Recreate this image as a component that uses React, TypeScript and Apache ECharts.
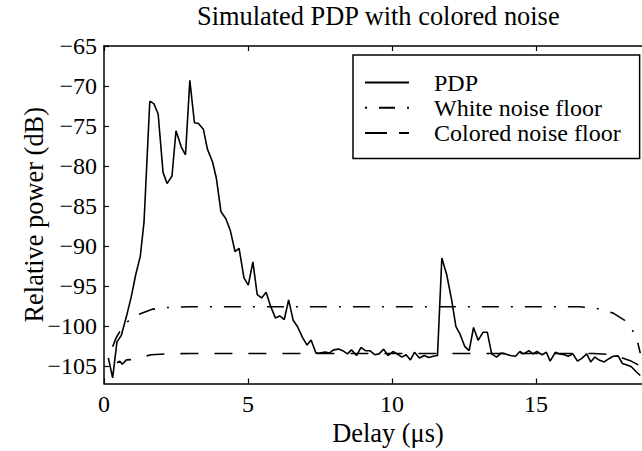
import React, { useEffect, useRef } from "react";
import * as echarts from "echarts";

const FONT = "Liberation Serif";

const pdpDelay = [
  0.15, 0.3, 0.45, 0.6, 0.78, 0.95, 1.1, 1.26, 1.39, 1.59, 1.73, 1.88, 2.05, 2.19, 2.36, 2.5, 2.68, 2.83, 2.98,
  3.14, 3.28, 3.45, 3.59, 3.77, 3.9, 4.06, 4.23, 4.38, 4.55, 4.69, 4.86, 5.01, 5.17, 5.32, 5.47, 5.63, 5.78,
  5.95, 6.1, 6.26, 6.41, 6.57, 6.72, 6.9, 7.05, 7.19, 7.36, 7.5, 7.68, 7.82, 7.97, 8.14, 8.29, 8.45, 8.59,
  8.77, 8.92, 9.08, 9.23, 9.4, 9.55, 9.71, 9.86, 10.03, 10.18, 10.34, 10.49, 10.64, 10.78, 10.95, 11.12,
  11.27, 11.43, 11.58, 11.73, 11.9, 12.07, 12.22, 12.37, 12.53, 12.68, 12.83, 12.99, 13.16, 13.31, 13.46,
  13.63, 13.79, 13.94, 14.11, 14.29, 14.44, 14.57, 14.75, 14.9, 15.03, 15.21, 15.36, 15.49, 15.67, 15.81,
  15.98, 16.12, 16.28, 16.44, 16.59, 16.76, 16.9, 17.04, 17.21, 17.37, 17.53, 17.68, 17.85, 18.0, 18.16,
  18.31, 18.47, 18.62,
];
const pdpPower = [
  -104.0, -106.5, -102.0, -101.2, -98.8, -96.3, -93.6, -91.3, -87.0, -71.9, -72.2, -73.5, -80.8, -82.2,
  -81.25, -75.6, -77.6, -78.6, -69.3, -74.6, -74.7, -75.4, -77.9, -79.5, -81.5, -85.7, -86.6, -88.0, -90.7,
  -90.3, -94.0, -94.9, -92.0, -96.1, -96.5, -95.8, -97.5, -99.0, -98.75, -99.2, -96.75, -99.3, -100.1,
  -101.5, -102.4, -101.75, -103.4, -103.4, -103.25, -103.4, -103.0, -102.9, -103.1, -103.5, -103.0, -103.7,
  -102.7, -103.1, -103.1, -103.6, -103.5, -102.9, -103.7, -103.2, -103.5, -103.9, -103.6, -104.25, -103.3,
  -104.0, -103.7, -103.96, -103.8, -103.7, -91.5, -93.6, -96.75, -100.1, -101.1, -102.6, -103.1, -100.2,
  -101.8, -100.8, -100.8, -103.5, -103.9, -103.4, -103.5, -103.7, -103.8, -103.2, -103.5, -103.1, -103.5,
  -103.2, -103.6, -103.3, -104.4, -103.3, -103.5, -103.6, -103.8, -103.5, -104.4, -104.05, -103.5, -104.5,
  -103.9, -104.3, -104.5, -104.1, -103.8, -103.75, -104.7, -104.9, -105.1, -105.7, -106.2,
];

const whiteDelay = [0.3, 0.42, 0.55, 0.8, 1.18, 1.7, 2.16, 3.0, 16.5, 17.1, 17.68, 18.08, 18.42, 18.54, 18.62];
const whitePower = [-102.6, -101.5, -100.7, -99.5, -98.6, -97.9, -97.7, -97.6, -97.6, -97.8, -98.4, -99.3, -100.9, -102.2, -103.4];

const coloredDelay = [0.45, 0.55, 0.63, 0.78, 1.0, 1.3, 1.64, 2.16, 3.0, 17.0, 17.7, 18.0, 18.3, 18.62];
const coloredPower = [-104.6, -104.4, -104.8, -104.25, -104.2, -103.9, -103.6, -103.5, -103.45, -103.45, -103.6, -104.0, -104.4, -105.0];

const xTicks = [0, 5, 10, 15];
const yTicks = [-105, -100, -95, -90, -85, -80, -75, -70, -65];

const zip = (a: number[], b: number[]) => a.map((v, i) => [v, b[i]]);
const minus = (v: number) => String(v).replace("-", "\u2212");

export default function App() {
  const ref = useRef<HTMLDivElement>(null);
  useEffect(() => {
    if (!ref.current) return;
    const chart = echarts.init(ref.current, null, { renderer: "svg" });
    const axisLine = { show: true, lineStyle: { color: "#000", width: 1.5 } };
    const tick = { show: true, inside: true, length: 5, lineStyle: { color: "#000", width: 1.2 } };
    const label = { fontFamily: FONT, fontSize: 24, color: "#000" };
    chart.setOption({
      animation: false,
      backgroundColor: "#fff",
      title: {
        text: "Simulated PDP with colored noise",
        left: 197,
        top: 3,
        padding: 0,
        textStyle: { fontFamily: FONT, fontSize: 26.4, fontWeight: "normal", color: "#000" },
      },
      grid: { left: 104, right: -4, top: 46, bottom: 67.5, show: false },
      legend: {
        orient: "vertical",
        left: 353,
        top: 55,
        padding: [15, 19, 13, 11],
        itemWidth: 44,
        itemHeight: 14,
        itemGap: 0.2,
        backgroundColor: "#fff",
        borderColor: "#000",
        borderWidth: 1.5,
        borderRadius: 0,
        itemStyle: { opacity: 0, borderWidth: 0 },
        textStyle: { fontFamily: FONT, fontSize: 24, color: "#000", lineHeight: 25, padding: [0, 0, 0, 20] },
        data: [
          { name: "PDP" },
          { name: "White noise floor", lineStyle: { type: [2, 12, 16, 12] } },
          { name: "Colored noise floor", lineStyle: { type: [22, 12] } },
        ],
      },
      xAxis: [
        {
          type: "value",
          min: 0,
          max: 18.68,
          position: "bottom",
          axisLine,
          axisTick: { ...tick, customValues: xTicks },
          axisLabel: { ...label, margin: 8, customValues: xTicks },
          splitLine: { show: false },
          name: "Delay (\u03bcs)",
          nameLocation: "middle",
          nameGap: 36,
          nameMoveOverlap: false,
          nameTextStyle: { fontFamily: FONT, fontSize: 26.4, color: "#000", padding: [0, 0, 0, 30] },
        },
        {
          type: "value",
          min: 0,
          max: 18.68,
          position: "top",
          axisLine,
          axisTick: { ...tick, customValues: xTicks },
          axisLabel: { show: false },
          splitLine: { show: false },
        },
      ],
      yAxis: {
        type: "value",
        min: -107.2,
        max: -65,
        axisLine,
        axisTick: { ...tick, customValues: yTicks },
        axisLabel: { ...label, margin: 7, customValues: yTicks, formatter: minus },
        splitLine: { show: false },
        name: "Relative power (dB)",
        nameLocation: "middle",
        nameGap: 57,
        nameMoveOverlap: false,
        nameTextStyle: { fontFamily: FONT, fontSize: 26.4, color: "#000" },
      },
      series: [
        {
          name: "PDP",
          type: "line",
          data: zip(pdpDelay, pdpPower),
          symbol: "none",
          lineStyle: { color: "#000", width: 1.6, type: "solid" },
          itemStyle: { color: "#000" },
          z: 3,
        },
        {
          name: "White noise floor",
          type: "line",
          data: zip(whiteDelay, whitePower),
          symbol: "none",
          lineStyle: { color: "#000", width: 1.6, type: [17, 12, 2, 12] },
          itemStyle: { color: "#000" },
          z: 2,
        },
        {
          name: "Colored noise floor",
          type: "line",
          data: zip(coloredDelay, coloredPower),
          symbol: "none",
          lineStyle: { color: "#000", width: 1.6, type: [18, 16] },
          itemStyle: { color: "#000" },
          z: 2,
        },
      ],
    });
    return () => chart.dispose();
  }, []);
  return <div ref={ref} style={{ position: "absolute", left: 0, top: 0, width: 642, height: 451 }} />;
}
